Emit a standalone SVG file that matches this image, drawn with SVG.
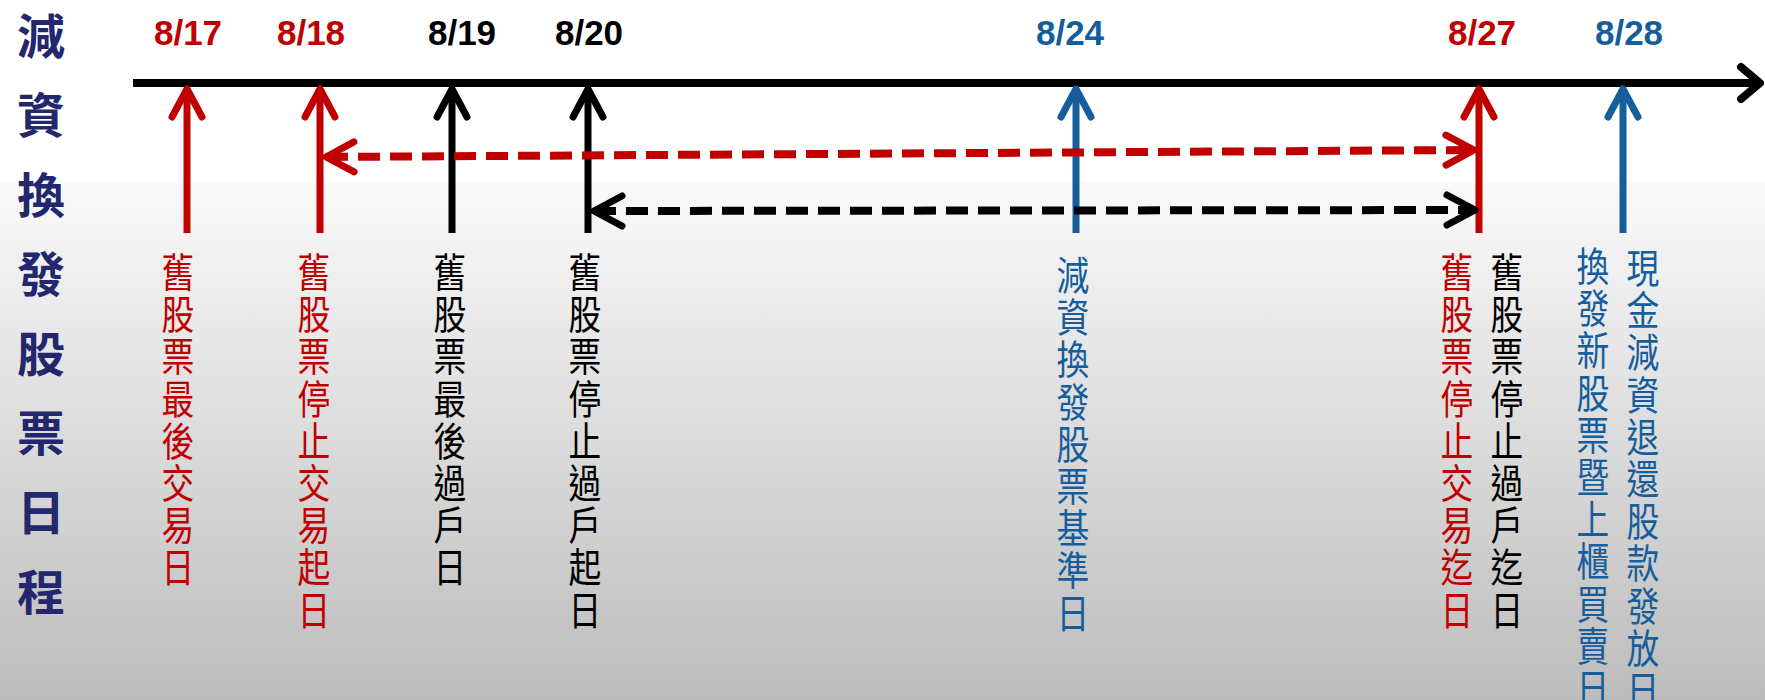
<svg xmlns="http://www.w3.org/2000/svg" width="1765" height="700" viewBox="0 0 1765 700">
<defs>
<linearGradient id="bg" x1="0" y1="0" x2="0" y2="1">
<stop offset="0" stop-color="#fafafa"/>
<stop offset="1" stop-color="#bcbcbc"/>
</linearGradient>
<marker id="mRed" markerUnits="userSpaceOnUse" viewBox="-40 -22 46 44" markerWidth="46" markerHeight="44" refX="0" refY="0" orient="auto-start-reverse" overflow="visible"><path d="M-28,-15 L0,0 L-28,15" fill="none" stroke="#C00000" stroke-width="7" stroke-linecap="round" stroke-linejoin="round"/></marker>
<marker id="mBlack" markerUnits="userSpaceOnUse" viewBox="-40 -22 46 44" markerWidth="46" markerHeight="44" refX="0" refY="0" orient="auto-start-reverse" overflow="visible"><path d="M-28,-15 L0,0 L-28,15" fill="none" stroke="#000" stroke-width="7" stroke-linecap="round" stroke-linejoin="round"/></marker>
<marker id="mBlue" markerUnits="userSpaceOnUse" viewBox="-40 -22 46 44" markerWidth="46" markerHeight="44" refX="0" refY="0" orient="auto-start-reverse" overflow="visible"><path d="M-28,-15 L0,0 L-28,15" fill="none" stroke="#165E9B" stroke-width="7" stroke-linecap="round" stroke-linejoin="round"/></marker>
<marker id="mAxis" markerUnits="userSpaceOnUse" viewBox="-30 -22 36 44" markerWidth="36" markerHeight="44" refX="0" refY="0" orient="auto" overflow="visible"><path d="M-19,-16 L0,0 L-19,16" fill="none" stroke="#000" stroke-width="8" stroke-linecap="round" stroke-linejoin="round"/></marker>
</defs>
<style>
.date{font-family:"Liberation Sans",Arial,sans-serif;font-weight:bold;font-size:35px;text-anchor:middle}
.col{font-family:"Noto Sans CJK TC","Noto Sans CJK SC",sans-serif;font-size:40px;text-anchor:middle}
.title{font-family:"Noto Sans CJK TC","Noto Sans CJK SC",sans-serif;font-size:48px;font-weight:bold;text-anchor:middle;fill:#23276E}
.red{fill:#C00000}.blk{fill:#000}.blue{fill:#165E9B}
.ln{fill:none;stroke-width:7}
.dash{fill:none;stroke-width:8;stroke-dasharray:22 10}
</style>
<rect x="0" y="0" width="1765" height="182" fill="#ffffff"/>
<rect x="0" y="182" width="1765" height="518" fill="url(#bg)"/>

<g id="title">
<text class="title"><tspan x="41" y="54">減</tspan><tspan x="41" y="133">資</tspan><tspan x="41" y="213">換</tspan><tspan x="41" y="292">發</tspan><tspan x="41" y="372">股</tspan><tspan x="41" y="451">票</tspan><tspan x="41" y="530">日</tspan><tspan x="41" y="610">程</tspan></text>
</g>

<g id="d0817">
<text class="date red" x="188" y="45">8/17</text>
<g transform="translate(178,0) scale(0.82,1)"><text class="col red"><tspan x="0" y="287">舊</tspan><tspan x="0" y="329">股</tspan><tspan x="0" y="371">票</tspan><tspan x="0" y="414">最</tspan><tspan x="0" y="456">後</tspan><tspan x="0" y="498">交</tspan><tspan x="0" y="540">易</tspan><tspan x="0" y="582">日</tspan></text></g>
</g>

<g id="d0818">
<text class="date red" x="311" y="45">8/18</text>
<g transform="translate(314,0) scale(0.82,1)"><text class="col red"><tspan x="0" y="287">舊</tspan><tspan x="0" y="329">股</tspan><tspan x="0" y="371">票</tspan><tspan x="0" y="414">停</tspan><tspan x="0" y="456">止</tspan><tspan x="0" y="498">交</tspan><tspan x="0" y="540">易</tspan><tspan x="0" y="582">起</tspan><tspan x="0" y="625">日</tspan></text></g>
</g>

<g id="d0819">
<text class="date blk" x="462" y="45">8/19</text>
<g transform="translate(450,0) scale(0.82,1)"><text class="col blk"><tspan x="0" y="287">舊</tspan><tspan x="0" y="329">股</tspan><tspan x="0" y="371">票</tspan><tspan x="0" y="414">最</tspan><tspan x="0" y="456">後</tspan><tspan x="0" y="498">過</tspan><tspan x="0" y="540">戶</tspan><tspan x="0" y="582">日</tspan></text></g>
</g>

<g id="d0820">
<text class="date blk" x="589" y="45">8/20</text>
<g transform="translate(585,0) scale(0.82,1)"><text class="col blk"><tspan x="0" y="287">舊</tspan><tspan x="0" y="329">股</tspan><tspan x="0" y="371">票</tspan><tspan x="0" y="414">停</tspan><tspan x="0" y="456">止</tspan><tspan x="0" y="498">過</tspan><tspan x="0" y="540">戶</tspan><tspan x="0" y="582">起</tspan><tspan x="0" y="625">日</tspan></text></g>
</g>

<g id="d0824">
<text class="date blue" x="1070" y="45">8/24</text>
<g transform="translate(1073,0) scale(0.82,1)"><text class="col blue"><tspan x="0" y="290">減</tspan><tspan x="0" y="332">資</tspan><tspan x="0" y="374">換</tspan><tspan x="0" y="417">發</tspan><tspan x="0" y="459">股</tspan><tspan x="0" y="501">票</tspan><tspan x="0" y="543">基</tspan><tspan x="0" y="585">準</tspan><tspan x="0" y="628">日</tspan></text></g>
</g>

<g id="d0827">
<text class="date red" x="1482" y="45">8/27</text>
<g transform="translate(1457,0) scale(0.82,1)"><text class="col red"><tspan x="0" y="287">舊</tspan><tspan x="0" y="329">股</tspan><tspan x="0" y="371">票</tspan><tspan x="0" y="414">停</tspan><tspan x="0" y="456">止</tspan><tspan x="0" y="498">交</tspan><tspan x="0" y="540">易</tspan><tspan x="0" y="582">迄</tspan><tspan x="0" y="625">日</tspan></text></g>
<g transform="translate(1507,0) scale(0.82,1)"><text class="col blk"><tspan x="0" y="287">舊</tspan><tspan x="0" y="329">股</tspan><tspan x="0" y="371">票</tspan><tspan x="0" y="414">停</tspan><tspan x="0" y="456">止</tspan><tspan x="0" y="498">過</tspan><tspan x="0" y="540">戶</tspan><tspan x="0" y="582">迄</tspan><tspan x="0" y="625">日</tspan></text></g>
</g>

<g id="d0828">
<text class="date blue" x="1629" y="45">8/28</text>
<g transform="translate(1593,0) scale(0.82,1)"><text class="col blue"><tspan x="0" y="281">換</tspan><tspan x="0" y="323">發</tspan><tspan x="0" y="365">新</tspan><tspan x="0" y="408">股</tspan><tspan x="0" y="450">票</tspan><tspan x="0" y="492">暨</tspan><tspan x="0" y="534">上</tspan><tspan x="0" y="576">櫃</tspan><tspan x="0" y="619">買</tspan><tspan x="0" y="661">賣</tspan><tspan x="0" y="703">日</tspan></text></g>
<g transform="translate(1643,0) scale(0.82,1)"><text class="col blue"><tspan x="0" y="283">現</tspan><tspan x="0" y="325">金</tspan><tspan x="0" y="367">減</tspan><tspan x="0" y="410">資</tspan><tspan x="0" y="452">退</tspan><tspan x="0" y="494">還</tspan><tspan x="0" y="536">股</tspan><tspan x="0" y="578">款</tspan><tspan x="0" y="621">發</tspan><tspan x="0" y="663">放</tspan><tspan x="0" y="705">日</tspan></text></g>
</g>

<g id="connectors">
<path d="M133,83 L1760,83" fill="none" stroke="#000" stroke-width="8" marker-end="url(#mAxis)"/>
<path class="ln" d="M187,233 L187,89" stroke="#C00000" marker-end="url(#mRed)"/>
<path class="ln" d="M320,233 L320,89" stroke="#C00000" marker-end="url(#mRed)"/>
<path class="ln" d="M452,233 L452,89" stroke="#000" marker-end="url(#mBlack)"/>
<path class="ln" d="M588,233 L588,89" stroke="#000" marker-end="url(#mBlack)"/>
<path class="ln" d="M1076,233 L1076,89" stroke="#165E9B" marker-end="url(#mBlue)"/>
<path class="ln" d="M1479,233 L1479,89" stroke="#C00000" marker-end="url(#mRed)"/>
<path class="ln" d="M1623,233 L1623,89" stroke="#165E9B" marker-end="url(#mBlue)"/>
<path class="dash" d="M326,157 L1474,150" stroke="#C00000" marker-start="url(#mRed)" marker-end="url(#mRed)"/>
<path class="dash" d="M594,211 L1475,210" stroke="#000" marker-start="url(#mBlack)" marker-end="url(#mBlack)"/>
</g>
</svg>
